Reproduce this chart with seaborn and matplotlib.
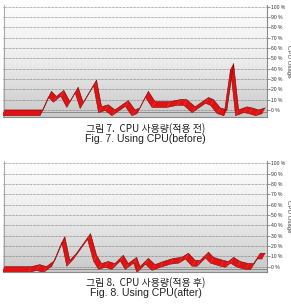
import numpy as np
import pandas as pd
import matplotlib
matplotlib.use("Agg")
import matplotlib.pyplot as plt
from matplotlib.colors import LinearSegmentedColormap
import seaborn as sns

# ---- data ----
before_t = [1.5, 13.0, 15.5, 17.0, 19.2, 21.0, 23.5, 25.0, 29.0, 30.5, 32.5, 34.5,
            38.5, 40.5, 42.0, 44.5, 46.5, 51.0, 54.0, 56.0, 58.5, 62.5, 64.0, 66.0,
            68.0, 70.0, 71.5, 74.0, 75.5, 77.5, 79.5]
before_cpu = [0, 0, 18, 13, 19, 8, 22, 7, 29, 3, 5, 0,
              9, 0, 2, 18, 8, 8, 10, 10, 3, 12, 10, 2,
              0, 45, 0, 3, 2, 0, 2]

after_t = [1.5, 9.5, 12.0, 14.0, 16.5, 19.5, 21.0, 23.0, 25.0, 27.2, 29.0, 30.5,
           32.5, 34.5, 37.0, 38.5, 41.0, 42.0, 44.5, 46.5, 49.0, 52.0, 54.5, 56.5,
           58.5, 60.0, 62.5, 64.0, 67.0, 68.5, 70.0, 72.0, 74.5, 76.0, 78.0, 79.5]
after_cpu = [0, 0, 2, 0, 6, 29, 6, 13, 22, 32, 11, 3,
             5, 3, 11, 3, 9, 0, 8, 2, 5, 8, 9, 13,
             6, 6, 14, 9, 6, 5, 9, 5, 3, 3, 13, 13]

y_ticks = list(range(0, 101, 10))
y_tick_labels = [f"{v} %" for v in y_ticks]
y_label = "CPU Usage"
captions_ko = ["그림 7.  CPU 사용량(적용 전)", "그림 8.  CPU 사용량(적용 후)"]
captions_en = ["Fig. 7. Using CPU(before)", "Fig. 8. Using CPU(after)"]

sns.set_theme(style="white")
plt.rcParams['font.family'] = ['Liberation Sans Narrow', 'Liberation Sans', 'DejaVu Sans']

fig = plt.figure(figsize=(2.91, 3.05), dpi=100)
W, H = 291, 305

grad_cmap = LinearSegmentedColormap.from_list("g", ["#fdfdfd", "#ececec", "#c9c9c9"])


def panel(ax, t, v, ylo, yhi):
    ax.set_xlim(1.0, 80.0)
    ax.set_ylim(ylo, yhi)
    grad = np.linspace(0, 1, 256).reshape(-1, 1)
    ax.imshow(grad, cmap=grad_cmap, extent=[0, 1, 0, 1], transform=ax.transAxes,
              aspect="auto", zorder=0, origin="upper")
    for yv in y_ticks:
        ax.axhline(yv, color="#6a6a6a", lw=0.5, ls=(0, (1.0, 1.0)), zorder=1)
    ax.axhline(-2.0, color="#808080", lw=0.6, zorder=1)
    ax.axvline(1.35, color="#9a9a9a", lw=0.6, zorder=1)

    dx, dy = 0.9, 5.5
    df = pd.DataFrame({"t": t, "cpu": v})
    df["t_front"] = df["t"] - dx
    df["cpu_front"] = df["cpu"] - dy
    for i in range(len(df) - 1):
        a, b = df.iloc[i], df.iloc[i + 1]
        ax.fill([a.t, b.t, b.t_front, a.t_front],
                [a.cpu, b.cpu, b.cpu_front, a.cpu_front],
                color="#e01212", lw=0, zorder=3)
    sns.lineplot(data=df, x="t", y="cpu", ax=ax, color="#7a0a0a", lw=0.45,
                 zorder=4, estimator=None, sort=False)
    sns.lineplot(data=df, x="t_front", y="cpu_front", ax=ax, color="#9a0c0c",
                 lw=0.45, zorder=4, estimator=None, sort=False)

    ax.yaxis.tick_right()
    ax.yaxis.set_label_position("right")
    ax.set_yticks(y_ticks)
    ax.set_yticklabels(y_tick_labels)
    ax.tick_params(axis="y", which="both", right=True, length=2.0, width=0.5,
                   color="#666666", labelsize=3.6, labelcolor="#333333", pad=0.8)
    ax.set_xticks([])
    ax.set_xlabel("")
    ax.set_ylabel(y_label, rotation=270, fontsize=4.4, color="#444444",
                  labelpad=4)
    for s in ["top", "left"]:
        ax.spines[s].set_visible(False)
    ax.spines["right"].set_color("#8a8a8a")
    ax.spines["right"].set_linewidth(0.8)
    ax.spines["bottom"].set_color("#8a8a8a")
    ax.spines["bottom"].set_linewidth(0.8)


# top panel
ax1 = fig.add_axes([3 / W, 1 - 117 / H, 264 / W, 112 / H])
panel(ax1, before_t, before_cpu, -6.8, 101.6)
# bottom panel
ax2 = fig.add_axes([3 / W, 1 - 272 / H, 264 / W, 111 / H])
panel(ax2, after_t, after_cpu, -5.1, 102.2)

for i, (yk, ye) in enumerate([(0.577, 0.543), (0.074, 0.039)]):
    fig.text(0.5, yk, captions_ko[i], ha="center", va="center", fontsize=7.2,
             color="#222222", family=['Noto Sans CJK KR', 'DejaVu Sans'])
    fig.text(0.5, ye, captions_en[i], ha="center", va="center", fontsize=7.6,
             color="#222222")

fig.savefig("out.png", dpi=100)
